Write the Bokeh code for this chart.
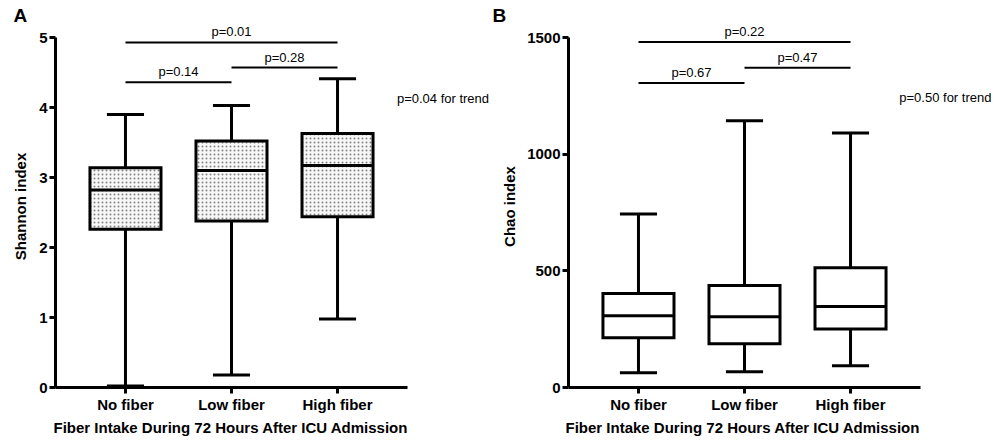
from bokeh.plotting import figure
from bokeh.models import ColumnDataSource, Range1d, FixedTicker, Label, LabelSet, Title
from bokeh.core.properties import value
from bokeh.layouts import row
from bokeh.embed import file_html
from bokeh.resources import INLINE

# ---------------- data ----------------
categories = ["No fiber", "Low fiber", "High fiber"]
x_title = "Fiber Intake During 72 Hours After ICU Admission"

shannon_whisker_low = [0.02, 0.18, 0.98]
shannon_q1 = [2.26, 2.38, 2.44]
shannon_median = [2.82, 3.10, 3.17]
shannon_q3 = [3.14, 3.52, 3.63]
shannon_whisker_high = [3.90, 4.03, 4.41]

chao_whisker_low = [63, 67, 93]
chao_q1 = [213, 187, 251]
chao_median = [307, 303, 347]
chao_q3 = [403, 437, 513]
chao_whisker_high = [744, 1143, 1091]

bracket_pairs = [(0, 1), (1, 2), (0, 2)]
shannon_bracket_y = [4.36, 4.57, 4.93]
shannon_p = ["p=0.14", "p=0.28", "p=0.01"]
shannon_trend = "p=0.04 for trend"
shannon_trend_y = 4.13

chao_bracket_y = [1305, 1370, 1481]
chao_p = ["p=0.67", "p=0.47", "p=0.22"]
chao_trend = "p=0.50 for trend"
chao_trend_y = 1241

shannon_ticks = [0, 1, 2, 3, 4, 5]
chao_ticks = [0, 500, 1000, 1500]

FONT = "Liberation Sans"

X_LO, X_HI = -0.66, 2.66        # extent of the drawn x axis (category units)
AXIS_W, AXIS_H = 352, 350       # pixel length of the drawn axes
FRAME_H = 362                   # frame is a bit taller than the y axis (room for p labels)
HEIGHT = 445


def make_panel(letter, ylabel, wlo, q1, med, q3, whi, bys, ptexts, trend, trend_y,
               trend_x, ymax, yticks, hatched, width, left, ylabel_standoff,
               letter_offset, xtitle_offset):
    frame_w = width - left
    x_end = X_LO + frame_w * (X_HI - X_LO) / AXIS_W
    y_end = ymax * FRAME_H / AXIS_H
    p = figure(width=width, height=HEIGHT, output_backend="svg", toolbar_location=None,
               x_range=Range1d(X_LO, x_end), y_range=Range1d(0, y_end),
               min_border_left=left, min_border_right=0,
               min_border_top=25, min_border_bottom=HEIGHT - 25 - FRAME_H)
    p.outline_line_color = None
    p.grid.visible = False
    p.background_fill_color = "white"

    # panel letter
    p.title.text = letter
    p.title.align = "left"
    p.title.offset = letter_offset
    p.title.standoff = 0
    p.title.text_font = FONT
    p.title.text_font_style = "bold"
    p.title.text_font_size = "19px"
    p.title.text_color = "black"

    xs = list(range(len(categories)))
    half_box = 0.335
    half_cap = 0.175
    src = ColumnDataSource(dict(
        x=xs, wlo=wlo, q1=q1, med=med, q3=q3, whi=whi,
        bl=[x - half_box for x in xs], br=[x + half_box for x in xs],
        cl=[x - half_cap for x in xs], cr=[x + half_cap for x in xs],
    ))
    # whiskers
    p.segment(x0="x", y0="q3", x1="x", y1="whi", source=src, line_color="black", line_width=3)
    p.segment(x0="x", y0="q1", x1="x", y1="wlo", source=src, line_color="black", line_width=3)
    p.segment(x0="cl", y0="whi", x1="cr", y1="whi", source=src, line_color="black", line_width=3)
    p.segment(x0="cl", y0="wlo", x1="cr", y1="wlo", source=src, line_color="black", line_width=3)
    # boxes
    kw = {}
    if hatched:
        kw = dict(hatch_pattern="dot", hatch_color="#858585", hatch_scale=4, hatch_weight=1)
    p.vbar(x="x", width=2 * half_box, top="q3", bottom="q1", source=src,
           fill_color="#f7f7f7" if hatched else "white", line_color="black",
           line_width=3, line_join="miter", **kw)
    p.segment(x0="bl", y0="med", x1="br", y1="med", source=src, line_color="black", line_width=3)

    # comparison brackets
    bsrc = ColumnDataSource(dict(
        x0=[a for a, b in bracket_pairs], x1=[b for a, b in bracket_pairs],
        xm=[(a + b) / 2 for a, b in bracket_pairs], y=bys, text=ptexts,
    ))
    p.segment(x0="x0", y0="y", x1="x1", y1="y", source=bsrc, line_color="black", line_width=2)
    p.add_layout(LabelSet(x="xm", y="y", text="text", source=bsrc, y_offset=3,
                          text_align="center", text_baseline="bottom",
                          text_font=value(FONT), text_font_size=value("13px"),
                          text_color="black"))
    p.add_layout(Label(x=trend_x, y=trend_y, text=trend, text_align="left",
                       text_baseline="middle", text_font=FONT, text_font_size="13px",
                       text_color="black"))

    # axes
    for ax in (p.xaxis[0], p.yaxis[0]):
        ax.axis_line_width = 3
        ax.axis_line_color = "black"
        ax.major_tick_line_width = 3
        ax.major_tick_line_color = "black"
        ax.major_tick_in = 0
        ax.major_tick_out = 6
        ax.minor_tick_line_color = None
        ax.major_label_text_font = FONT
        ax.major_label_text_font_style = "bold"
        ax.major_label_text_font_size = "15px"
        ax.major_label_text_color = "black"
        ax.axis_label_text_font = FONT
        ax.axis_label_text_font_style = "bold"
        ax.axis_label_text_font_size = "15px"
        ax.axis_label_text_color = "black"
        ax.major_label_standoff = 2
    p.xaxis.bounds = (X_LO, X_HI)
    p.yaxis.bounds = (0, ymax)
    p.xaxis.ticker = FixedTicker(ticks=xs)
    p.xaxis.major_label_overrides = {i: c for i, c in enumerate(categories)}
    p.yaxis.ticker = FixedTicker(ticks=yticks)
    p.yaxis.axis_label = ylabel
    p.yaxis.axis_label_standoff = ylabel_standoff

    # x axis title, centred under the drawn axis (not the wider frame)
    p.add_layout(Title(text=x_title, align="left", offset=xtitle_offset, standoff=2,
                       text_font=FONT, text_font_style="bold", text_font_size="15px",
                       text_color="black"), "below")
    return p


pA = make_panel("A", "Shannon index", shannon_whisker_low, shannon_q1, shannon_median,
                shannon_q3, shannon_whisker_high, shannon_bracket_y, shannon_p,
                shannon_trend, shannon_trend_y, 2.56, 5, shannon_ticks, True,
                492, 55, 7, -42, -2)
pB = make_panel("B", "Chao index", chao_whisker_low, chao_q1, chao_median,
                chao_q3, chao_whisker_high, chao_bracket_y, chao_p,
                chao_trend, chao_trend_y, 2.46, 1500, chao_ticks, False,
                505, 76, 6, -76, -3)

layout = row(pA, pB)
open("out.html", "w").write(file_html(layout, INLINE))
